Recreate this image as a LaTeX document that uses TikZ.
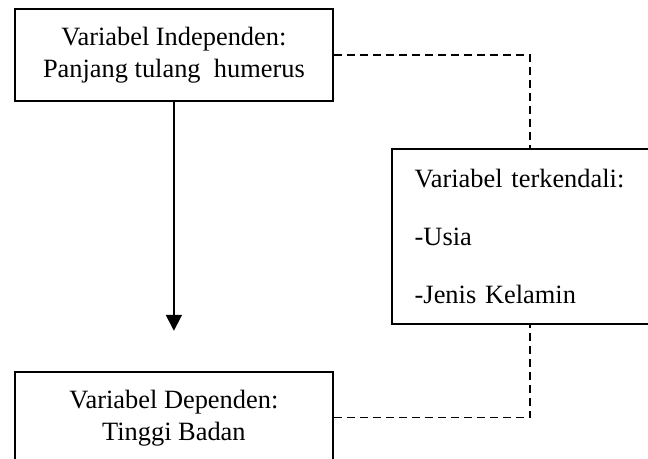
\documentclass[tikz,border=0pt]{standalone}
\usepackage{fontspec}
\setmainfont{Liberation Serif}
\usetikzlibrary{positioning, arrows.meta}
\tikzset{
	every node/.append style={
		font={\fontsize{13.2}{16}\selectfont},
	},
	varbox/.append style={
		draw,
		line width=0.9pt,
		align = center,
		minimum width=159pt,
		minimum height=46pt,
	},
	sidebox/.append style={
		draw,
		line width=0.9pt,
		align = left,
		text width=115pt,
		inner xsep=11.5pt,
		minimum height=87.5pt,
		font={\fontsize{13.2}{29}\selectfont},
	},
	link/.append style={
		dash pattern=on 4pt off 2.5pt,
		line width=0.8pt,
	}
}

\begin{document}
\begin{tikzpicture}[]

\useasboundingbox (0,0) rectangle (324pt,-229.5pt);
\clip (0,0) rectangle (324pt,-229.5pt);

\node(indep)[varbox, anchor=north west] at (7pt,-4pt) {Variabel Independen:\\Panjang tulang\ \ humerus};
\node(dep)[varbox, below=134.5pt of indep]{Variabel Dependen:\\Tinggi Badan};
\node(ctrl)[sidebox, below right=70pt and 28.5pt of indep.north east]{Variabel terkendali:\\-Usia\\-Jenis Kelamin};
\coordinate[above=20pt of dep.north] (tip);

\draw[-{Triangle[length=8pt,width=8pt]}, line width=0.9pt] (indep) -- (tip);
\draw[link] (indep.east) -| (ctrl.north);
\draw[link] (dep.east) -| (ctrl.south);

\end{tikzpicture}
\end{document}
